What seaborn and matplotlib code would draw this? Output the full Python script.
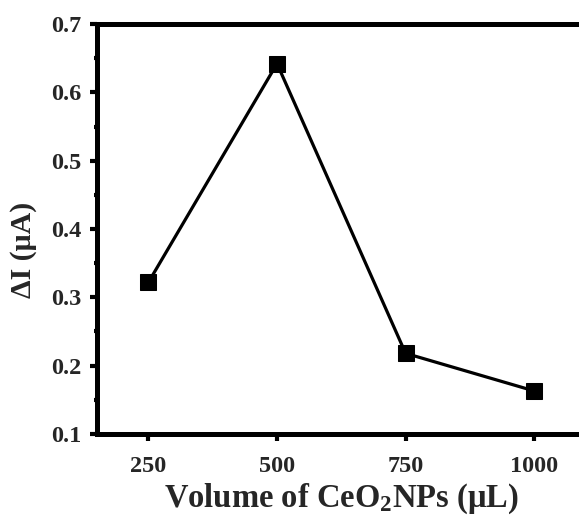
import matplotlib
matplotlib.use("Agg")
import matplotlib.pyplot as plt
import seaborn as sns
import pandas as pd
from matplotlib.ticker import MultipleLocator

volume = [250, 500, 750, 1000]
delta_i = [0.322, 0.642, 0.218, 0.163]
x_ticks = [250, 500, 750, 1000]
y_ticks = [0.1, 0.2, 0.3, 0.4, 0.5, 0.6, 0.7]

sns.set_theme(style="ticks")
plt.rcParams['font.family'] = ['Liberation Serif', 'DejaVu Serif']
plt.rcParams['font.weight'] = 'bold'
plt.rcParams['mathtext.fontset'] = 'custom'
plt.rcParams['mathtext.rm'] = 'Liberation Serif:bold'
plt.rcParams['mathtext.bf'] = 'Liberation Serif:bold'
plt.rcParams['mathtext.it'] = 'Liberation Serif:bold'

df = pd.DataFrame({"volume": volume, "delta_i": delta_i})

fig = plt.figure(figsize=(5.79, 5.22), dpi=100)
ax = fig.add_axes([0.1675, 0.1686, 0.844, 0.7854])
sns.lineplot(data=df, x="volume", y="delta_i", ax=ax, color="black",
             marker="s", markersize=11.5, markeredgecolor="black",
             markerfacecolor="black", linewidth=2.3)

ax.set_xlim(150, 1100)
ax.set_ylim(0.1, 0.7)
ax.set_xticks(x_ticks)
ax.set_yticks(y_ticks)
ax.xaxis.set_minor_locator(MultipleLocator(125))
ax.yaxis.set_minor_locator(MultipleLocator(0.05))
ax.set_xticklabels([str(v) for v in x_ticks], fontsize=17.5, fontweight='bold')
ax.set_yticklabels([f"{v:.1f}" for v in y_ticks], fontsize=17.5, fontweight='bold')
ax.tick_params(which='major', direction='out', length=5, width=3, color='black')
ax.tick_params(axis='x', which='major', pad=11)
ax.tick_params(axis='y', which='major', pad=6)
ax.tick_params(which='minor', direction='out', length=2.5, width=3, color='black')

for s in ax.spines.values():
    s.set_linewidth(3.6)
    s.set_color('black')

ax.set_xlabel(r'Volume of CeO$_\mathbf{2}$NPs (μL)', fontsize=23.5, fontweight='bold', labelpad=3)
ax.set_ylabel('ΔI (μA)', fontsize=21.5, fontweight='bold')
ax.yaxis.set_label_coords(-0.122, 0.449)

fig.savefig("out.png", dpi=100)
